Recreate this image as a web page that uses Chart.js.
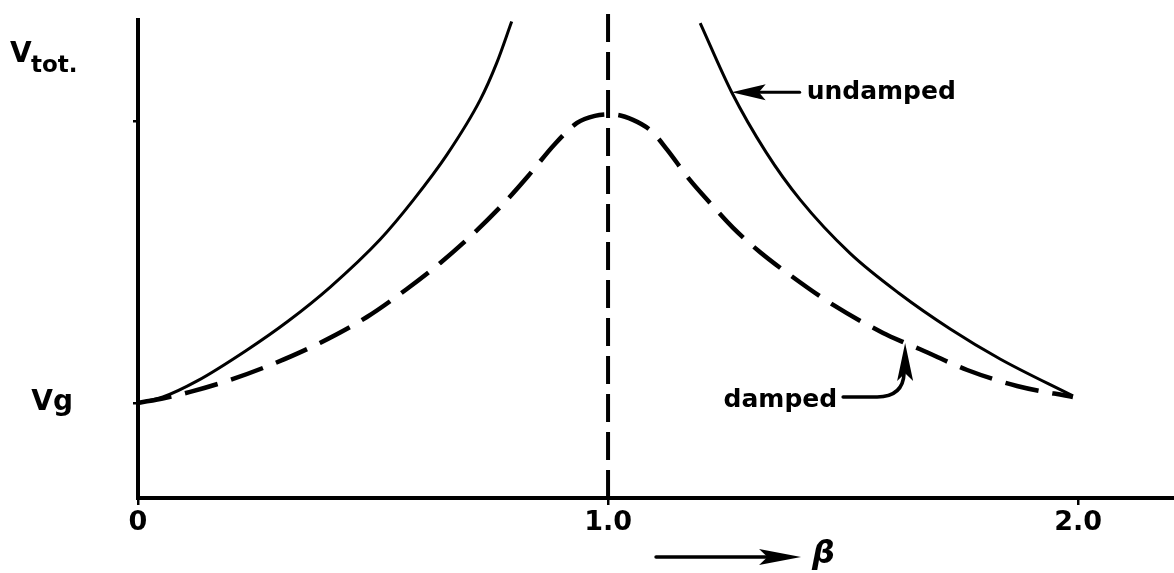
<!DOCTYPE html>
<html>
<head>
<meta charset="utf-8">
<title>Vtot vs beta</title>
<script src="https://cdn.jsdelivr.net/npm/chart.js@4/dist/chart.umd.min.js"></script>
<style>
  html, body { margin: 0; padding: 0; background: #fff; }
  canvas { display: block; }
</style>
</head>
<body>
<canvas id="chart" width="1174" height="573"></canvas>
<script>
"use strict";

// ── Data ───────────────────────────────────────────────────
// Frequency ratio beta on x, total response on y (Vg = 1).
const undampedLeftBeta = [0, 0.053, 0.126, 0.232, 0.319, 0.409, 0.515, 0.586, 0.657, 0.728, 0.763, 0.795];
const undampedLeftV    = [1.00, 1.063, 1.232, 1.558, 1.86, 2.22, 2.72, 3.137, 3.61, 4.189, 4.576, 5.014];

const undampedRightBeta = [1.196, 1.263, 1.336, 1.409, 1.515, 1.621, 1.728, 1.834, 1.989];
const undampedRightV    = [4.997, 4.27, 3.64, 3.137, 2.574, 2.147, 1.779, 1.463, 1.074];

const dampedBeta = [0, 0.057, 0.111, 0.196, 0.287, 0.387, 0.487, 0.572, 0.643, 0.713, 0.777,
                    0.830, 0.887, 0.934, 0.972, 1.009, 1.053, 1.094, 1.126, 1.174, 1.217,
                    1.266, 1.323, 1.387, 1.479, 1.585, 1.632, 1.664, 1.764, 1.870, 1.989];
const dampedV    = [1.000, 1.053, 1.116, 1.242, 1.410, 1.632, 1.905, 2.200, 2.474, 2.780, 3.095,
                    3.389, 3.726, 3.947, 4.021, 4.037, 3.979, 3.853, 3.663, 3.347, 3.105,
                    2.842, 2.589, 2.347, 2.032, 1.737, 1.632, 1.565, 1.347, 1.179, 1.063];

// resonance marker at beta = 1
const resonanceBeta = [1, 1];
const resonanceV    = [0, 5.15];

const xTickValues = [0, 1, 2];
const xTickLabels = ["0", "1.0", "2.0"];
const yTickValues = [1, 3.96];
const yTickLabels = ["Vg", ""];

// which points the callouts point at
const UNDAMPED_NOTE_IDX = 1;   // on the right undamped branch
const DAMPED_NOTE_IDX = 26;    // on the damped curve

// ── Helpers ────────────────────────────────────────────────
const pts = (xs, ys) => xs.map((x, i) => ({ x, y: ys[i] }));
const FONT = '"DejaVu Sans", sans-serif';

/** Filled arrowhead with its tip at (x, y), travelling along angle a. */
function arrowHead(ctx, x, y, a, len, half) {
  const c = Math.cos(a), s = Math.sin(a);
  ctx.beginPath();
  ctx.moveTo(x, y);
  ctx.lineTo(x - len * c + half * s, y - len * s - half * c);
  ctx.lineTo(x - len * c * 0.8, y - len * s * 0.8);
  ctx.lineTo(x - len * c - half * s, y - len * s + half * c);
  ctx.closePath();
  ctx.fill();
}

// ── Labels and callout arrows ──────────────────────────────
const notes = {
  id: "notes",
  afterDraw(chart) {
    const { ctx, scales: { x, y } } = chart;
    ctx.save();
    ctx.fillStyle = "#000";
    ctx.strokeStyle = "#000";
    ctx.lineCap = "round";

    // y-axis title, V with "tot." subscript
    ctx.textBaseline = "alphabetic";
    ctx.textAlign = "left";
    ctx.font = `bold 28px ${FONT}`;
    ctx.fillText("V", 10, 62);
    ctx.font = `bold 23px ${FONT}`;
    ctx.fillText("tot.", 31, 72);

    // "undamped" callout
    const ux = x.getPixelForValue(undampedRightBeta[UNDAMPED_NOTE_IDX]);
    const uy = y.getPixelForValue(undampedRightV[UNDAMPED_NOTE_IDX]);
    ctx.lineWidth = 3;
    ctx.beginPath();
    ctx.moveTo(ux + 25, uy);
    ctx.lineTo(ux + 68, uy);
    ctx.stroke();
    arrowHead(ctx, ux, uy, Math.PI, 34, 8);
    ctx.font = `bold 25px ${FONT}`;
    ctx.textBaseline = "middle";
    ctx.fillText("undamped", ux + 75, uy);

    // "damped" callout, hooked arrow coming up from below
    const dx = x.getPixelForValue(dampedBeta[DAMPED_NOTE_IDX]);
    const dy = y.getPixelForValue(dampedV[DAMPED_NOTE_IDX]);
    ctx.lineWidth = 3.5;
    ctx.beginPath();
    ctx.moveTo(dx - 1, dy + 30);
    ctx.quadraticCurveTo(dx - 2, dy + 54, dx - 28, dy + 54);
    ctx.lineTo(dx - 62, dy + 54);
    ctx.stroke();
    arrowHead(ctx, dx, dy, -Math.PI / 2, 38, 8);
    ctx.textAlign = "right";
    ctx.fillText("damped", dx - 68, dy + 58);

    // x-axis title: arrow then beta
    const bx = x.getPixelForValue(1);
    const by = chart.chartArea.bottom + 59;
    ctx.lineWidth = 3.5;
    ctx.beginPath();
    ctx.moveTo(bx + 48, by);
    ctx.lineTo(bx + 170, by);
    ctx.stroke();
    arrowHead(ctx, bx + 193, by, 0, 42, 8);
    ctx.textAlign = "left";
    ctx.font = `italic bold 32px ${FONT}`;
    ctx.fillText("β", bx + 204, by - 2);

    ctx.restore();
  },
};

// ── Chart ──────────────────────────────────────────────────
const solid = (data) => ({
  data, borderColor: "#000", borderWidth: 3, pointRadius: 0,
  cubicInterpolationMode: "monotone", clip: false,
});

new Chart(document.getElementById("chart"), {
  type: "line",
  data: {
    datasets: [
      solid(pts(undampedLeftBeta, undampedLeftV)),
      solid(pts(undampedRightBeta, undampedRightV)),
      {
        data: pts(dampedBeta, dampedV),
        borderColor: "#000", borderWidth: 4.5, borderDash: [34, 14],
        pointRadius: 0, cubicInterpolationMode: "monotone", clip: false,
      },
      {
        data: pts(resonanceBeta, resonanceV),
        borderColor: "#000", borderWidth: 4, borderDash: [28, 10],
        pointRadius: 0, clip: false,
      },
    ],
  },
  options: {
    responsive: false,
    animation: false,
    events: [],
    layout: { padding: { top: 20, right: 0, bottom: 0, left: 0 } },
    plugins: { legend: { display: false }, tooltip: { enabled: false } },
    scales: {
      x: {
        type: "linear", min: 0, max: 2.204,
        afterFit: (s) => { s.height = 75; s.paddingLeft = 0; s.paddingRight = 0; },
        afterBuildTicks: (s) => { s.ticks = xTickValues.map((v) => ({ value: v })); },
        ticks: {
          callback: (v) => xTickLabels[xTickValues.indexOf(v)],
          font: { family: FONT, weight: "bold", size: 27 },
          color: "#000", padding: 2, maxRotation: 0, autoSkip: false,
        },
        grid: { drawOnChartArea: false, color: "#000", lineWidth: 2.5, tickLength: 7 },
        border: { color: "#000", width: 4 },
      },
      y: {
        type: "linear", min: 0, max: 5.03,
        // fixed gutter; the wide label padding must not push the plot down
        afterFit: (s) => { s.width = 138; s.paddingTop = 0; s.paddingBottom = 0; },
        afterBuildTicks: (s) => { s.ticks = yTickValues.map((v) => ({ value: v })); },
        ticks: {
          callback: (v) => yTickLabels[yTickValues.indexOf(v)],
          font: { family: FONT, weight: "bold", size: 28 },
          color: "#000", padding: 60, autoSkip: false,
        },
        grid: { drawOnChartArea: false, color: "#000", lineWidth: 2.5, tickLength: 5 },
        border: { color: "#000", width: 4 },
      },
    },
  },
  plugins: [notes],
});
</script>
</body>
</html>
